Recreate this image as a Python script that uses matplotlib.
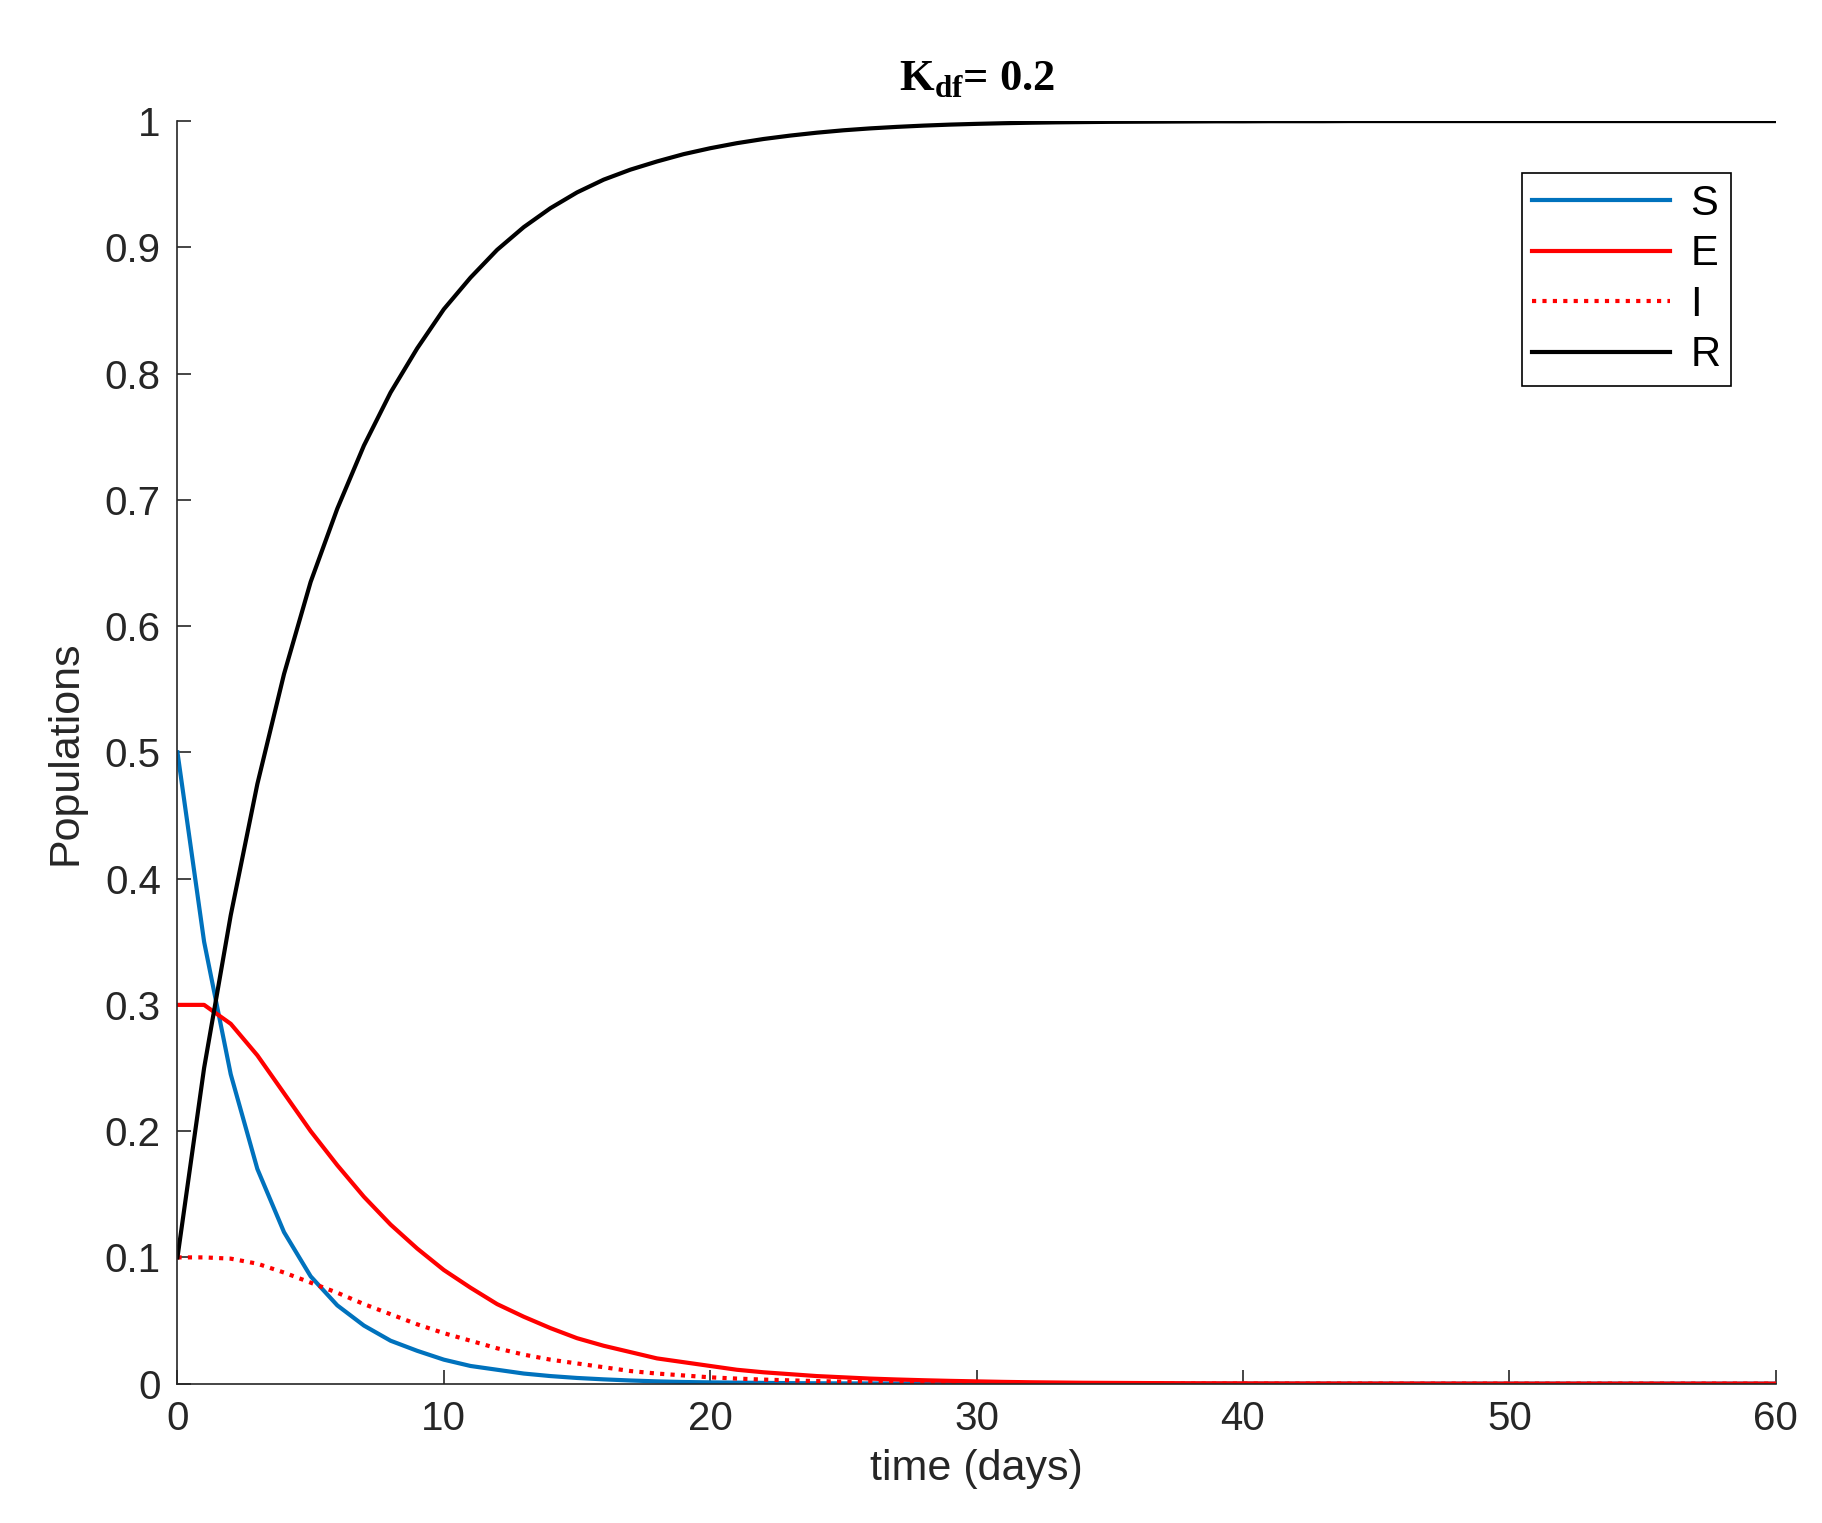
import matplotlib
matplotlib.use("Agg")
import matplotlib.pyplot as plt

days = list(range(61))
S = [0.5,0.35,0.245,0.17,0.12,0.085,0.062,0.046,0.034,0.026,0.019,0.014,0.011,0.008,0.006,0.0045,0.0034,0.0025,0.0018,0.0013,0.001,
     0.0008,0.0006,0.0004,0.0003,0.0002,0.00015,0.0001,0.00008,0.00006,0.00004,0.00003,0.00002,0.00001,0,0,0,0,0,0,0,
     0,0,0,0,0,0,0,0,0,0,0,0,0,0,0,0,0,0,0,0]
E = [0.3,0.3,0.285,0.26,0.23,0.2,0.173,0.148,0.126,0.107,0.09,0.076,0.063,0.053,0.044,0.036,0.03,0.025,0.02,0.017,0.014,
     0.011,0.009,0.0075,0.006,0.005,0.004,0.0033,0.0027,0.0022,0.0018,0.0014,0.0011,0.0009,0.0007,0.0006,0.0005,0.0004,0.0003,0.00025,0.0002,
     0.00015,0.00012,0.0001,0.00008,0.00006,0.00005,0.00004,0.00003,0.00002,0.00002,0.00001,0.00001,0.00001,0,0,0,0,0,0,0]
I = [0.1,0.1,0.099,0.095,0.088,0.08,0.072,0.063,0.055,0.047,0.04,0.034,0.028,0.023,0.019,0.016,0.013,0.01,0.008,0.0065,0.005,
     0.004,0.0032,0.0026,0.002,0.0016,0.0013,0.001,0.0008,0.0006,0.0005,0.0004,0.0003,0.00025,0.0002,0.00015,0.00012,0.0001,0.00008,0.00006,0.00005,
     0.00004,0.00003,0.00002,0.00002,0.00001,0.00001,0,0,0,0,0,0,0,0,0,0,0,0,0,0]
R = [0.1,0.25,0.371,0.475,0.562,0.635,0.693,0.743,0.785,0.82,0.851,0.876,0.898,0.916,0.931,0.9435,0.9536,0.9615,0.968,0.9738,0.9785,
     0.9825,0.9858,0.9885,0.9908,0.9927,0.9942,0.9954,0.9964,0.9972,0.9978,0.9983,0.9987,0.999,0.9992,0.9994,0.9995,0.9996,0.9997,0.9998,0.9998,
     0.9999,0.9999,0.9999,1,1,1,1,1,1,1,1,1,1,1,1,1,1,1,1,1]

plt.rcParams['font.family'] = ['Liberation Sans', 'DejaVu Sans']
fig = plt.figure(figsize=(18.22, 15.23), dpi=100)
ax = fig.add_axes([0.0974, 0.0915, 0.8772, 0.829])
lw = 3
ax.plot(days, S, color='#0072BD', lw=lw, label='S')
ax.plot(days, E, color='#FF0000', lw=lw, label='E')
ax.plot(days, I, color='#FF0000', lw=lw, ls=(0, (1, 1.5)), label='I')
ax.plot(days, R, color='black', lw=lw, label='R')
ax.set_xlim(0, 60)
ax.set_ylim(0, 1)
ax.set_xticks(range(0, 61, 10))
ax.set_yticks([i/10 for i in range(11)])
ax.set_yticklabels(['0'] + [f'{i/10:g}' for i in range(1, 10)] + ['1'])
for s in ['top', 'right']:
    ax.spines[s].set_visible(False)
for s in ['left', 'bottom']:
    ax.spines[s].set_color('#262626')
    ax.spines[s].set_linewidth(1.2)
ax.tick_params(direction='in', length=10, width=1.2, labelsize=29, colors='#262626', pad=12)
ax.set_xlabel('time (days)', fontsize=31, color='#262626', labelpad=8)
ax.set_ylabel('Populations', fontsize=31, color='#262626', labelpad=14)
ax.set_title(r'K$_{\mathregular{df}}$= 0.2', fontsize=32, fontweight='bold',
             family=['Liberation Serif', 'DejaVu Serif'], pad=22)
leg = ax.legend(loc='upper right', bbox_to_anchor=(0.985, 0.975), fontsize=30, fancybox=False,
                edgecolor='black', handlelength=3.3, borderpad=0.25, labelspacing=0.25,
                handletextpad=0.5, framealpha=1)
leg.get_frame().set_linewidth(1.2)
fig.savefig('out.png', dpi=100, facecolor='white')
